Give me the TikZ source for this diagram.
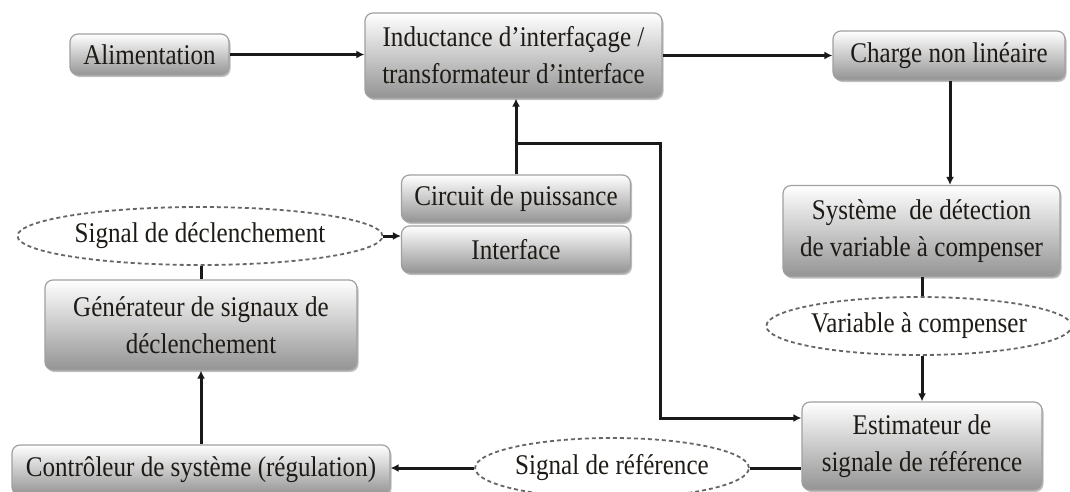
\documentclass[tikz,border=0pt]{standalone}
\usepackage{fontspec}
\setmainfont{Liberation Serif}[FakeStretch=0.88]
\usetikzlibrary{shapes.geometric,arrows.meta,shadows}
\definecolor{boxline}{HTML}{A0A0A0}
\definecolor{txt}{HTML}{1E1A16}
\begin{document}
\begin{tikzpicture}[x=1pt,y=-1pt,
  every node/.style={font=\fontsize{28.5}{37}\selectfont, text=txt, align=center, inner sep=0pt},
  blk/.style={draw=boxline, line width=1.2pt, rounded corners=8pt,
    top color=white, bottom color=black!42,
    drop shadow={shadow xshift=1.5pt, shadow yshift=-2pt, opacity=0.25, fill=black}},
  sig/.style={ellipse, draw=black!60, dashed, dash pattern=on 4pt off 3pt, line width=1.8pt, fill=white},
  link/.style={line width=3pt, draw=black!90},
  arr/.style={link, -{Latex[length=8pt,width=8pt]}}]
\useasboundingbox (0,0) rectangle (1070,491);
\node[blk, minimum width=159pt, minimum height=41pt] (alim) at (149.5,54.5) {Alimentation};
\node[blk, minimum width=297pt, minimum height=85pt] (induct) at (513.5,55.5) {Inductance d’interfaçage /\\transformateur d’interface};
\node[blk, minimum width=232pt, minimum height=49pt] (charge) at (949,55.5) {Charge non linéaire};
\node[blk, minimum width=277pt, minimum height=91pt] (syst) at (921.5,231) {Système \ de détection\\de variable à compenser};
\node[sig, minimum width=302pt, minimum height=58pt] (varc) at (919,326) {Variable à compenser};
\node[blk, minimum width=240pt, minimum height=88pt] (estim) at (922,446) {Estimateur de\\signale de référence};
\node[blk, minimum width=229pt, minimum height=47pt] (circ) at (516,198.5) {Circuit de puissance};
\node[blk, minimum width=229pt, minimum height=47pt] (interf) at (516,249.5) {Interface};
\node[sig, minimum width=365pt, minimum height=58pt] (sigdec) at (200,236) {Signal de déclenchement};
\node[blk, minimum width=312pt, minimum height=90pt] (gen) at (201,325) {Générateur de signaux de\\déclenchement};
\node[blk, minimum width=378pt, minimum height=50pt] (ctrl) at (201,470) {Contrôleur de système (régulation)};
\node[sig, minimum width=270pt, minimum height=60pt] (sigref) at (612,468) {Signal de référence};

\coordinate (jn) at (517,143);
\coordinate (fb) at (660,418);
\coordinate (cv) at (922,300);
\coordinate (cg) at (201,300);

\draw[arr] (alim.east) -- (alim.east -| induct.west);
\draw[arr] (induct.east |- charge.west) -- (charge.west);
\draw[arr] (charge.south -| 950,0) -- (syst.north -| 950,0);
\draw[link] (syst.south -| cv) -- (varc.north -| cv);
\draw[arr] (varc.south -| cv) -- (estim.north -| cv);
\draw[arr] (circ.north) -- (circ.north |- induct.south);
\draw[arr] (jn) -| (fb) -- (fb -| estim.west);
\draw[arr] (sigdec.east) -- (sigdec.east -| interf.west);
\draw[link] (gen.north) -- (gen.north |- sigdec.south);
\draw[arr] (ctrl.north) -- (gen.south);
\draw[link] (sigref.east -| estim.west) -- (sigref.east);
\draw[arr] (sigref.west) -- (ctrl.east |- sigref.west);
\end{tikzpicture}
\end{document}
